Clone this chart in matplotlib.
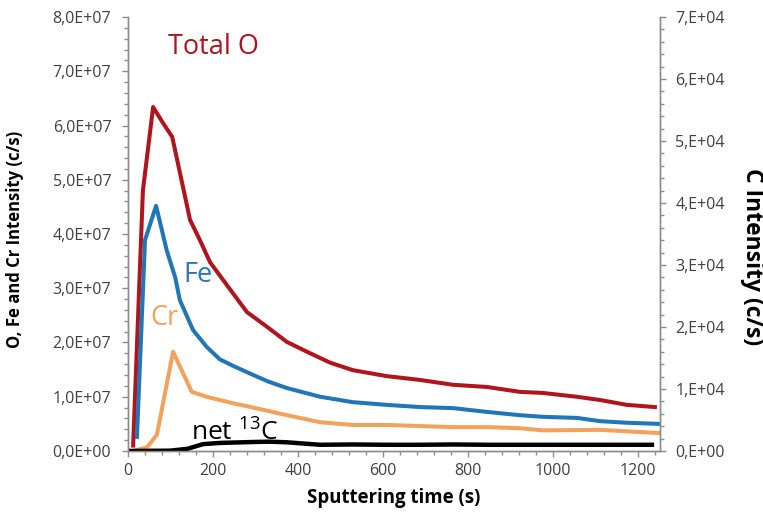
import matplotlib
matplotlib.use("Agg")
import matplotlib.pyplot as plt
from matplotlib.ticker import MultipleLocator, FuncFormatter

plt.rcParams['font.family'] = ['Open Sans', 'DejaVu Sans']
plt.rcParams['mathtext.fontset'] = 'custom'
plt.rcParams['mathtext.rm'] = 'Open Sans'

# depth profile, intensities in c/s
t_o = [12, 35, 59, 82, 104, 146, 169, 193, 224, 259, 280, 327, 374, 421, 475,
       529, 609, 687, 765, 845, 922, 976, 1056, 1111, 1174, 1240]
total_o = [1.0, 48.0, 63.4, 60.5, 57.9, 42.6, 38.9, 34.8, 31.5, 27.8, 25.6, 22.9,
           20.1, 18.3, 16.3, 14.9, 13.8, 13.1, 12.2, 11.8, 10.9, 10.7, 10.0, 9.4,
           8.5, 8.1]

t_fe = [21, 40, 66, 91, 111, 122, 153, 185, 216, 247, 295, 330, 374, 452, 529,
        609, 687, 765, 845, 922, 976, 1056, 1111, 1174, 1250]
fe = [2.6, 38.9, 45.2, 37.0, 32.0, 27.8, 22.3, 19.2, 16.9, 15.7, 14.0, 12.8, 11.6,
      10.0, 9.0, 8.5, 8.1, 7.9, 7.2, 6.6, 6.3, 6.1, 5.5, 5.2, 5.0]

t_cr = [12, 45, 68, 106, 150, 185, 216, 247, 295, 374, 452, 529, 609, 687, 765,
        845, 922, 976, 1111, 1250]
cr = [0.0, 0.7, 3.0, 18.3, 10.9, 10.0, 9.4, 8.8, 8.0, 6.6, 5.3, 4.8, 4.8, 4.6,
      4.4, 4.4, 4.2, 3.8, 3.9, 3.3]

t_c = [0, 99, 140, 176, 216, 295, 334, 374, 452, 529, 609, 687, 765, 845, 922,
       1000, 1100, 1233]
net_c = [0, 50, 350, 1100, 1300, 1450, 1500, 1400, 1000, 1050, 1000, 1000, 1050,
         1000, 1000, 1000, 1000, 1000]

red = '#B0141C'
blue = '#2176B8'
orange = '#F2A25C'
axis_grey = '#8C8C8C'
label_grey = '#404040'

fig = plt.figure(figsize=(7.63, 5.16), dpi=100)
ax = fig.add_axes([0.1678, 0.126, 0.6972, 0.841])
ax2 = ax.twinx()

lw = 2.9
ax.plot(t_o, [v * 1e6 for v in total_o], c=red, lw=lw, solid_joinstyle='round')
ax.plot(t_fe, [v * 1e6 for v in fe], c=blue, lw=lw, solid_joinstyle='round')
ax.plot(t_cr, [v * 1e6 for v in cr], c=orange, lw=lw, solid_joinstyle='round')
ax2.plot(t_c, net_c, c='black', lw=3.2, solid_joinstyle='round')

ax.set_xlim(0, 1252)
ax.set_ylim(0, 8e7)
ax2.set_ylim(0, 7e4)

ax.xaxis.set_major_locator(MultipleLocator(200))
ax.xaxis.set_minor_locator(MultipleLocator(40))
ax.yaxis.set_major_locator(MultipleLocator(1e7))
ax.yaxis.set_minor_locator(MultipleLocator(2e6))
ax2.yaxis.set_major_locator(MultipleLocator(1e4))
ax2.yaxis.set_minor_locator(MultipleLocator(2e3))

ax.yaxis.set_major_formatter(FuncFormatter(
    lambda v, p: f"{v / 1e7:.1f}E+07".replace('.', ',') if v > 0 else "0,0E+00"))
ax2.yaxis.set_major_formatter(FuncFormatter(
    lambda v, p: f"{v / 1e4:.0f},E+04" if v > 0 else "0,E+00"))

for a in (ax, ax2):
    a.spines['top'].set_visible(False)
    for s in ('left', 'right', 'bottom'):
        a.spines[s].set_color(axis_grey)
        a.spines[s].set_linewidth(1.0)
    a.tick_params(which='both', direction='out', color=axis_grey,
                  labelcolor=label_grey, labelsize=11.5)
    a.tick_params(which='major', length=4, width=1.0)
    a.tick_params(which='minor', length=3, width=1.0)
ax.tick_params(axis='y', pad=8)
ax.tick_params(axis='x', pad=5)
ax2.tick_params(axis='y', pad=7)

ax.set_xlabel('Sputtering time (s)', fontsize=13.4, fontweight='bold', labelpad=6)
# axis titles placed by hand so they sit where they belong
ax.text(-0.212, 0.488, 'O, Fe and Cr Intensity (c/s)', transform=ax.transAxes,
        rotation=90, ha='center', va='center', fontsize=12, fontweight='bold')
ax2.text(1.173, 0.447, 'C Intensity (c/s)', transform=ax2.transAxes,
         rotation=270, ha='center', va='center', fontsize=16.5, fontweight='bold')

# series names written inside the plot
ax.text(200, 7.45e7, 'Total O', color=red, fontsize=19.5, ha='center', va='center')
ax.text(165, 3.24e7, 'Fe', color='#2E75B6', fontsize=19.5, ha='center', va='center')
ax.text(87, 2.45e7, 'Cr', color=orange, fontsize=19.5, ha='center', va='center')
ax.text(250, 3.4e6, r'net $\mathregular{^{13}}$C', color='black', fontsize=19,
        ha='center', va='center')

fig.savefig('out.png', dpi=100)
